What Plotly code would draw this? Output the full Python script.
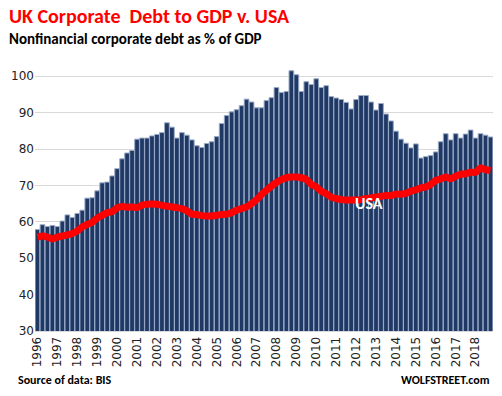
import plotly.graph_objects as go

years = list(range(1996, 2019))
quarters = [f"{y} Q{q}" for y in years for q in range(1, 5)]

uk_debt = [
    57.9, 59.2, 58.7, 59.0, 58.7, 60.2, 61.9, 61.2, 62.3, 63.2,
    66.5, 66.6, 68.5, 70.7, 70.9, 72.6, 74.6, 77.3, 78.9, 79.6,
    82.7, 83.0, 83.0, 83.6, 84.0, 84.5, 87.2, 86.0, 83.0, 84.5,
    83.8, 82.5, 80.9, 80.4, 81.5, 82.0, 83.4, 87.0, 89.2, 90.2,
    90.8, 91.9, 93.7, 92.9, 91.3, 91.3, 93.3, 94.1, 96.9, 95.5,
    95.8, 101.5, 100.4, 95.8, 98.5, 97.7, 99.3, 96.9, 97.4, 94.4,
    94.0, 93.6, 92.8, 91.0, 93.6, 94.7, 94.7, 92.9, 90.7, 92.5,
    89.6, 87.7, 84.9, 82.7, 81.6, 80.3, 81.4, 77.5, 77.9, 78.2,
    79.2, 82.0, 84.2, 82.5, 84.2, 83.0, 84.1, 85.2, 83.0, 84.2,
    83.8, 83.3,
]

usa_debt = [
    55.8, 56.1, 55.8, 55.3, 55.8, 56.1, 56.4, 56.8, 57.5, 58.6,
    59.3, 59.9, 61.0, 61.8, 62.5, 62.8, 63.8, 64.2, 64.0, 64.1,
    63.9, 64.6, 64.8, 64.9, 64.8, 64.5, 64.3, 64.1, 63.9, 63.6,
    63.0, 62.1, 62.0, 61.7, 61.6, 61.6, 61.8, 62.0, 62.1, 62.5,
    63.2, 63.6, 64.1, 65.0, 66.1, 67.5, 68.7, 69.8, 70.8, 71.6,
    72.1, 72.3, 72.3, 72.1, 71.6, 70.3, 69.6, 68.4, 67.7, 66.8,
    66.4, 66.1, 66.0, 66.0, 66.0, 66.1, 66.4, 66.6, 66.8, 67.0,
    67.2, 67.2, 67.6, 67.6, 67.8, 68.4, 68.8, 69.3, 69.6, 70.3,
    71.4, 71.8, 72.3, 71.8, 72.5, 73.0, 73.2, 73.6, 73.6, 74.8,
    74.3, 74.1,
]

tick_years = [str(y) for y in years]
y_ticks = [30, 40, 50, 60, 70, 80, 90, 100]

idx = list(range(len(quarters)))

L, R, T, B = 35.3, 9.3, 57.7, 65.3
PW, PH = 502 - L - R, 396 - T - B


def px(x):
    return (x - L) / PW


def py(y):
    return (396 - B - y) / PH


FONT = "Carlito, Lato, sans-serif"

fig = go.Figure()
fig.add_trace(go.Bar(
    x=idx, y=uk_debt, base=0,
    marker=dict(color="#1f3864", line=dict(color="#9aabc8", width=1)),
    hovertext=quarters, name="UK",
))
fig.add_trace(go.Scatter(
    x=idx, y=usa_debt, mode="lines",
    line=dict(color="#ff0000", width=7, shape="spline", smoothing=0.6),
    hovertext=quarters, name="USA",
))

fig.add_annotation(x=66.6, y=65.1, xref="x", yref="y", text="<b>USA</b>", showarrow=False,
                   font=dict(family=FONT, size=16, color="white"))

fig.add_annotation(xref="paper", yref="paper", x=px(7), y=py(15.5),
                   xanchor="left", yanchor="middle", showarrow=False,
                   text="<b>UK Corporate  Debt to GDP v. USA</b>",
                   font=dict(family=FONT, size=20, color="#ff0000"))
fig.add_annotation(xref="paper", yref="paper", x=px(7), y=py(38.5),
                   xanchor="left", yanchor="middle", showarrow=False,
                   text="<b>Nonfinancial corporate debt as % of GDP</b>",
                   font=dict(family=FONT, size=15, color="black"))
fig.add_annotation(xref="paper", yref="paper", x=px(16), y=py(380),
                   xanchor="left", yanchor="middle", showarrow=False,
                   text="<b>Source of data: BIS</b>",
                   font=dict(family=FONT, size=12, color="black"))
fig.add_annotation(xref="paper", yref="paper", x=px(492), y=py(380),
                   xanchor="right", yanchor="middle", showarrow=False,
                   text="<b>WOLFSTREET.com</b>",
                   font=dict(family=FONT, size=12, color="black"))

fig.update_layout(
    width=502, height=396,
    margin=dict(l=L, r=R, t=T, b=B, autoexpand=False),
    paper_bgcolor="white", plot_bgcolor="white",
    showlegend=False, bargap=0.05,
    font=dict(family=FONT, size=12, color="#222"),
)
fig.update_xaxes(
    range=[-0.5, len(idx) - 0.5],
    tickmode="array", tickvals=[i * 4 for i in range(len(tick_years))], ticktext=tick_years,
    tickangle=-90, showgrid=False, zeroline=False,
    showline=True, linecolor="#d9d9d9", ticks="",
    tickfont=dict(family="DejaVu Sans, sans-serif", size=12, color="#222"),
)
fig.update_yaxes(
    range=[30, 105], tickvals=y_ticks, showgrid=True, gridcolor="#d9d9d9", gridwidth=1,
    zeroline=False, ticks="",
    tickfont=dict(family="DejaVu Sans, sans-serif", size=12, color="#222"),
)

fig.write_html("out.html", config={"displayModeBar": False},
               post_script="document.body.style.margin='0';")
